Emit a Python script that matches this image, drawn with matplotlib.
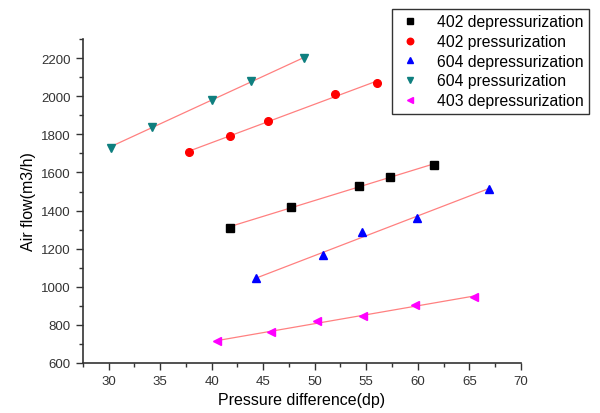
import numpy as np
import matplotlib.pyplot as plt
from matplotlib.ticker import MultipleLocator

plt.rcParams['font.family'] = ['Liberation Sans', 'DejaVu Sans']

# === Daten ===
dp_402_dep = [41.8, 47.7, 54.3, 57.3, 61.6]
q_402_dep = [1310, 1420, 1530, 1575, 1640]

dp_402_pre = [37.8, 41.8, 45.5, 52.0, 56.0]
q_402_pre = [1710, 1790, 1870, 2010, 2070]

dp_604_dep = [44.3, 50.8, 54.6, 59.9, 66.9]
q_604_dep = [1045, 1165, 1285, 1360, 1515]

dp_604_pre = [30.2, 34.2, 40.0, 43.8, 49.0]
q_604_pre = [1730, 1840, 1980, 2080, 2200]

dp_403_dep = [40.5, 45.8, 50.2, 54.7, 59.7, 65.5]
q_403_dep = [715, 760, 820, 845, 905, 945]

series = [
    (dp_402_dep, q_402_dep, "402 depressurization", "s", "black"),
    (dp_402_pre, q_402_pre, "402 pressurization", "o", "red"),
    (dp_604_dep, q_604_dep, "604 depressurization", "^", "blue"),
    (dp_604_pre, q_604_pre, "604 pressurization", "v", "#0f7f7f"),
    (dp_403_dep, q_403_dep, "403 depressurization", "<", "magenta"),
]

# === Plot ===
fig = plt.figure(figsize=(6, 4.14), dpi=100)
ax = fig.add_axes([0.138, 0.121, 0.730, 0.782])

for x, y, label, marker, color in series:
    x = np.array(x)
    y = np.array(y)
    k, d = np.polyfit(x, y, 1)
    xs = np.array([x.min(), x.max()])
    ax.plot(xs, k * xs + d, color="#ff8080", lw=0.9, zorder=1)
    ax.plot(x, y, linestyle="none", marker=marker, color=color,
            markersize=5.5, label=label, zorder=2)

ax.set_xlim(27.5, 70)
ax.set_ylim(600, 2300)
ax.xaxis.set_major_locator(MultipleLocator(5))
ax.xaxis.set_minor_locator(MultipleLocator(2.5))
ax.yaxis.set_major_locator(MultipleLocator(200))
ax.yaxis.set_minor_locator(MultipleLocator(100))
ax.spines['top'].set_visible(False)
ax.spines['right'].set_visible(False)
for s in ['left', 'bottom']:
    ax.spines[s].set_linewidth(1.2)
    ax.spines[s].set_color("#333333")
ax.tick_params(which='major', direction='out', length=5, width=1, labelsize=9.5, colors="#333333")
ax.tick_params(which='minor', direction='out', length=3, width=1, colors="#333333")

ax.set_xlabel("Pressure difference(dp)", fontsize=11.5)
ax.set_ylabel("Air flow(m3/h)", fontsize=11.5)

leg = fig.legend(loc="upper right", bbox_to_anchor=(597 / 600, 1 - 2 / 414),
                 fontsize=11.3, frameon=True, fancybox=False, handletextpad=0.9,
                 borderpad=0.35, labelspacing=0.3, handlelength=1.6,
                 markerscale=0.85)
leg.get_frame().set_edgecolor("black")
leg.get_frame().set_linewidth(1.0)

plt.savefig("out.png", dpi=100)
plt.close()
